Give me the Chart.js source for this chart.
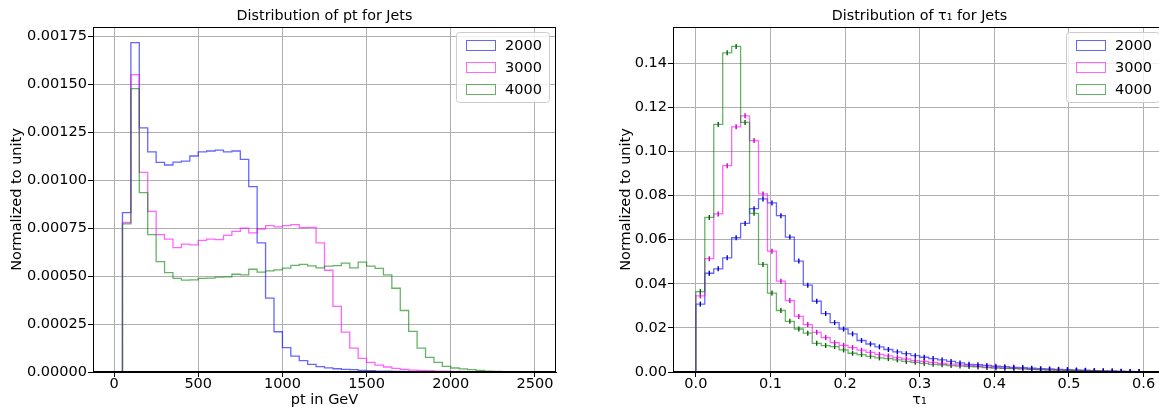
<!DOCTYPE html>
<html>
<head>
<meta charset="utf-8">
<script src="https://cdn.jsdelivr.net/npm/chart.js@4.4.0/dist/chart.umd.min.js"></script>
<style>
  html, body { margin: 0; padding: 0; background: #fff; overflow: hidden; }
  #wrap { position: relative; width: 1159px; height: 409px; overflow: hidden; }
  canvas { position: absolute; top: 0; }
  #graficoPt { left: 0; }
  #graficoTau { left: 580px; }
</style>
</head>
<body>
<div id="wrap">
  <canvas id="graficoPt" width="580" height="409"></canvas>
  <canvas id="graficoTau" width="592" height="409"></canvas>
</div>
<script>
// Datos: 50 bins por histograma
const series = ["2000", "3000", "4000"];

// pt en GeV, bins de 50 entre 0 y 2500
const ptInicio = 0;
const ptAncho = 50;
const pt2000 = [0, 0.000832, 0.001719, 0.001274, 0.001149, 0.001094, 0.00108, 0.001095, 0.0011, 0.001127,
  0.001149, 0.001153, 0.001158, 0.001148, 0.001153, 0.001109, 0.000967, 0.000674, 0.000385, 0.00021,
  0.000127, 0.000083, 0.000059, 0.00004, 0.000028, 0.000022, 0.000017, 0.000014, 0.000012, 0.000009,
  0.000007, 0.000005, 0.000004, 0.000003, 0.0000025, 0.000002, 0.0000015, 0.000001, 0.000001, 0.0000008,
  0.0000006, 0.0000005, 0.0000004, 0.0000003, 0.0000002, 0.0000002, 0.0000001, 0.0000001, 0, 0];
const pt3000 = [0, 0.00078, 0.001552, 0.001042, 0.000838, 0.000717, 0.000693, 0.000649, 0.000667, 0.000663,
  0.000687, 0.000693, 0.000691, 0.000713, 0.000734, 0.00075, 0.000726, 0.000746, 0.000764, 0.000757,
  0.000764, 0.000769, 0.000753, 0.000755, 0.000674, 0.000531, 0.000342, 0.000208, 0.000125, 0.000071,
  0.00005, 0.000036, 0.000026, 0.000019, 0.000014, 0.00001, 0.0000085, 0.0000068, 0.000005, 0.000004,
  0.000003, 0.0000025, 0.000002, 0.0000015, 0.000001, 0.0000008, 0.0000006, 0.0000004, 0.0000002, 0.0000001];
const pt4000 = [0, 0.000773, 0.001479, 0.000936, 0.000717, 0.000576, 0.000519, 0.000488, 0.000479, 0.000481,
  0.000488, 0.00049, 0.000495, 0.000496, 0.00051, 0.000507, 0.000536, 0.000521, 0.000528, 0.000533,
  0.000542, 0.000556, 0.000562, 0.000554, 0.000543, 0.000552, 0.000555, 0.000568, 0.000543, 0.000573,
  0.000552, 0.000541, 0.000507, 0.000437, 0.000321, 0.000212, 0.000125, 0.000076, 0.00005, 0.000029,
  0.000021, 0.000016, 0.000012, 0.0000085, 0.000005, 0.000003, 0.000002, 0.0000015, 0.000001, 0.0000008];

// tau_1, bins de 0.012 entre 0 y 0.6
const tauInicio = 0;
const tauAncho = 0.012;
const tau2000 = [0.0308, 0.0448, 0.0468, 0.0518, 0.0609, 0.0674, 0.0741, 0.0785, 0.0767, 0.0709,
  0.0612, 0.0503, 0.0394, 0.0321, 0.0265, 0.0224, 0.0195, 0.0173, 0.0143, 0.0127,
  0.0114, 0.0102, 0.0091, 0.0083, 0.0074, 0.0067, 0.0061, 0.0055, 0.0048, 0.0041,
  0.0035, 0.0033, 0.0030, 0.0026, 0.0024, 0.0021, 0.0020, 0.0017, 0.0015, 0.0014,
  0.0012, 0.0011, 0.0009, 0.0008, 0.0006, 0.0005, 0.00045, 0.0003, 0.00025, 0.0002];
const tau3000 = [0.0345, 0.0514, 0.0717, 0.0936, 0.1112, 0.1162, 0.105, 0.0808, 0.0548, 0.0412,
  0.0324, 0.0252, 0.0215, 0.018, 0.0156, 0.0133, 0.0121, 0.0111, 0.0099, 0.0089,
  0.008, 0.0073, 0.0065, 0.0059, 0.0052, 0.0048, 0.0044, 0.0039, 0.0036, 0.0032,
  0.0029, 0.0026, 0.0023, 0.002, 0.0018, 0.0017, 0.0015, 0.0012, 0.0011, 0.0011,
  0.0009, 0.00076, 0.0006, 0.0005, 0.00045, 0.0004, 0.0003, 0.00025, 0.0002, 0.0002];
const tau4000 = [0.0365, 0.0701, 0.1123, 0.1448, 0.1477, 0.1132, 0.072, 0.0488, 0.0358, 0.0279,
  0.023, 0.0195, 0.0176, 0.013, 0.012, 0.0115, 0.01, 0.0085, 0.0079, 0.0071,
  0.0064, 0.0061, 0.0055, 0.0048, 0.0044, 0.0039, 0.0035, 0.0033, 0.0029, 0.0027,
  0.0025, 0.0023, 0.002, 0.0018, 0.0017, 0.0015, 0.0014, 0.0012, 0.0011, 0.0009,
  0.00085, 0.0008, 0.0006, 0.00053, 0.00045, 0.0004, 0.0003, 0.00023, 0.00015, 0.00015];

// Ticks de los ejes
const ptTicksX = [0, 500, 1000, 1500, 2000, 2500];
const ptTicksY = [0, 0.00025, 0.0005, 0.00075, 0.001, 0.00125, 0.0015, 0.00175];
const tauTicksX = [0, 0.1, 0.2, 0.3, 0.4, 0.5, 0.6];
const tauTicksY = [0, 0.02, 0.04, 0.06, 0.08, 0.10, 0.12, 0.14];

const colores = ["rgba(0,0,255,0.6)", "rgba(255,0,255,0.6)", "rgba(0,128,0,0.6)"];
const coloresError = ["#0000cc", "#cc00cc", "#006400"];

const tamLetra = 14.5;
Chart.defaults.font.family = "'DejaVu Sans', sans-serif";
Chart.defaults.color = "#000";

function bordesBins(inicio, ancho, n) {
  const bordes = [];
  for (let i = 0; i <= n; i++) bordes.push(inicio + i * ancho);
  return bordes;
}

// Contorno tipo "step" de matplotlib
function puntosHist(bordes, valores) {
  const pts = [{ x: bordes[0], y: 0 }];
  valores.forEach((v, i) => pts.push({ x: bordes[i], y: v }));
  pts.push({ x: bordes[valores.length], y: 0 });
  return pts;
}

function centrosHist(bordes, valores) {
  return valores.map((v, i) => ({ x: (bordes[i] + bordes[i + 1]) / 2, y: v }));
}

// Marco negro alrededor del área del gráfico
const marco = {
  id: "marco",
  afterDatasetsDraw(chart) {
    const { ctx, chartArea } = chart;
    ctx.save();
    ctx.strokeStyle = "#000";
    ctx.lineWidth = 1;
    const l = Math.round(chartArea.left) + 0.5, t = Math.round(chartArea.top) + 0.5;
    const r = Math.round(chartArea.right) - 0.5, b = Math.round(chartArea.bottom) - 0.5;
    ctx.strokeRect(l, t, r - l, b - t);
    ctx.restore();
  }
};

// Título centrado sobre el área del gráfico
const titulo = {
  id: "titulo",
  afterDraw(chart, args, opts) {
    const { ctx, chartArea } = chart;
    ctx.save();
    ctx.font = "14.3px 'DejaVu Sans'";
    ctx.fillStyle = "#000";
    ctx.textAlign = "center";
    ctx.textBaseline = "alphabetic";
    ctx.fillText(opts.texto, (chartArea.left + chartArea.right) / 2, chartArea.top - 7);
    ctx.restore();
  }
};

// Leyenda con marco, arriba a la derecha
const leyenda = {
  id: "leyenda",
  afterDraw(chart) {
    const { ctx, chartArea } = chart;
    const w = 93, h = 70;
    const x0 = chartArea.right - 7 - w, y0 = chartArea.top + 5;
    ctx.save();
    ctx.fillStyle = "rgba(255,255,255,0.8)";
    ctx.strokeStyle = "#cccccc";
    ctx.lineWidth = 1;
    ctx.beginPath();
    ctx.roundRect(x0 + 0.5, y0 + 0.5, w, h, 3);
    ctx.fill();
    ctx.stroke();
    ctx.font = tamLetra + "px 'DejaVu Sans'";
    ctx.textBaseline = "middle";
    ctx.textAlign = "left";
    series.forEach((s, i) => {
      const yc = y0 + 13 + i * 22;
      ctx.strokeStyle = colores[i];
      ctx.strokeRect(x0 + 10.5, Math.round(yc - 5) + 0.5, 29, 10);
      ctx.fillStyle = "#000";
      ctx.fillText(s, x0 + 49, yc + 1);
    });
    ctx.restore();
  }
};

function escalas(cfg) {
  return {
    x: {
      type: "linear",
      min: cfg.xMin,
      max: cfg.xMax,
      afterBuildTicks: (s) => { s.ticks = cfg.xTicks.map((v) => ({ value: v })); },
      afterFit: (s) => { s.height = 37; },
      ticks: { callback: cfg.xFmt, padding: -1, maxRotation: 0, autoSkip: false, font: { size: tamLetra } },
      grid: { color: "#b0b0b0", lineWidth: 1, tickColor: "#000", tickLength: 5, tickWidth: 1 },
      border: { display: true, color: "#000", width: 1 },
      title: { display: true, text: cfg.xTitulo, font: { size: tamLetra }, padding: { top: 0, bottom: 0 } }
    },
    y: {
      type: "linear",
      min: 0,
      max: cfg.yMax,
      afterBuildTicks: (s) => { s.ticks = cfg.yTicks.map((v) => ({ value: v })); },
      afterFit: (s) => { s.width = 93; },
      ticks: { callback: cfg.yFmt, padding: 1, autoSkip: false, font: { size: tamLetra } },
      grid: { color: "#b0b0b0", lineWidth: 1, tickColor: "#000", tickLength: 5, tickWidth: 1 },
      border: { display: true, color: "#000", width: 1 },
      title: { display: true, text: "Normalized to unity", font: { size: tamLetra }, padding: { top: cfg.yTituloPad, bottom: 0 } }
    }
  };
}

function crearGrafico(id, cfg) {
  const bordes = bordesBins(cfg.inicio, cfg.ancho, cfg.valores[0].length);
  const datasets = cfg.valores.map((vals, i) => ({
    type: "line",
    label: series[i],
    data: puntosHist(bordes, vals),
    borderColor: colores[i],
    backgroundColor: "rgba(0,0,0,0)",
    borderWidth: 1.3,
    pointRadius: 0,
    stepped: true,
    fill: false,
    order: 3 - i
  }));
  if (cfg.errores) {
    cfg.valores.forEach((vals, i) => {
      datasets.push({
        type: "scatter",
        label: series[i] + " err",
        data: centrosHist(bordes, vals),
        pointStyle: "line",
        rotation: 90,
        radius: 2.5,
        borderColor: coloresError[i],
        borderWidth: 1.4,
        order: 0
      });
    });
  }
  return new Chart(document.getElementById(id), {
    data: { datasets: datasets },
    options: {
      responsive: false,
      animation: false,
      events: [],
      layout: { padding: { left: 0, right: cfg.padDer, top: 27, bottom: 0 } },
      scales: escalas(cfg),
      plugins: {
        legend: { display: false },
        tooltip: { enabled: false },
        titulo: { texto: cfg.titulo }
      }
    },
    plugins: [marco, titulo, leyenda]
  });
}

crearGrafico("graficoPt", {
  titulo: "Distribution of pt for Jets",
  inicio: ptInicio, ancho: ptAncho,
  valores: [pt2000, pt3000, pt4000],
  xMin: -125, xMax: 2625, xTicks: ptTicksX, xFmt: (v) => String(v), xTitulo: "pt in GeV",
  yMax: 0.0018, yTicks: ptTicksY, yFmt: (v) => v.toFixed(5), yTituloPad: 8.3,
  padDer: 24, errores: false
});

// El panel derecho sigue un poco más allá del borde de la imagen
crearGrafico("graficoTau", {
  titulo: "Distribution of τ₁ for Jets",
  inicio: tauInicio, ancho: tauAncho,
  valores: [tau2000, tau3000, tau4000],
  xMin: -0.0306, xMax: 0.63, xTicks: tauTicksX, xFmt: (v) => v.toFixed(1), xTitulo: "τ₁",
  yMax: 0.1565, yTicks: tauTicksY, yFmt: (v) => v.toFixed(2), yTituloPad: 37.3,
  padDer: 6, errores: true
});
</script>
</body>
</html>
